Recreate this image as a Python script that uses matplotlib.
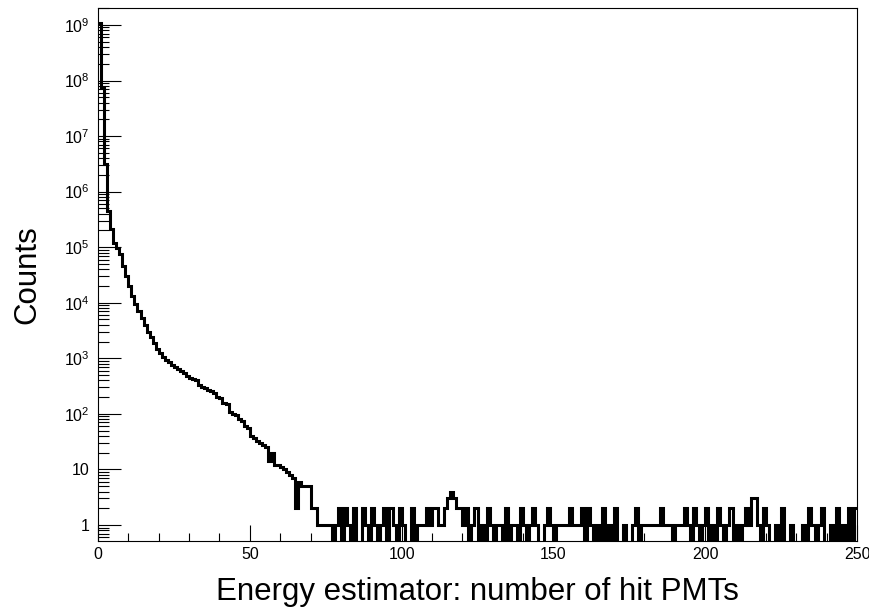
import numpy as np
import matplotlib
matplotlib.use("Agg")
import matplotlib.pyplot as plt
import matplotlib.ticker as ticker

plt.rcParams.update({
    "font.family": ["Liberation Sans", "DejaVu Sans"],
    "mathtext.fontset": "custom",
    "mathtext.rm": "Liberation Sans",
    "mathtext.default": "regular",
})

# -- Datos: cuentas por bin (ancho 1 hit PMT), de 0 a 250 --
counts = [
    1.1e9, 7.6e7, 3.1e6, 4.4e5, 2.1e5, 1.2e5, 9.5e4, 7.4e4, 4.5e4, 3.0e4,   # 0-9
    2.0e4, 1.35e4, 9.5e3, 7.0e3, 5.3e3, 4.0e3, 3.0e3, 2.4e3, 1.9e3, 1.5e3,  # 10-19
    1250, 1070, 950, 850, 770, 700, 640, 590, 545, 480,                     # 20-29
    440, 420, 400, 330, 300, 290, 270, 260, 240, 200,                       # 30-39
    190, 160, 150, 107, 100, 95, 80, 75, 60, 56,                            # 40-49
    40, 37, 33, 30, 27, 25, 14, 20, 12, 12,                                 # 50-59
    11, 10, 9, 8, 7, 2, 6, 5, 5, 5,                                         # 60-69
    2, 2, 1, 1, 1, 1, 1, 0, 1, 2,                                           # 70-79
    0, 2, 1, 0, 2, 0, 0, 2, 1, 0,                                           # 80-89
    2, 1, 0, 1, 2, 0, 2, 1, 0, 2,                                           # 90-99
    1, 0, 0, 2, 0, 1, 1, 1, 2, 1,                                           # 100-109
    2, 2, 1, 1, 2, 3, 4, 3, 2, 2,                                           # 110-119
    1, 2, 0, 1, 2, 0, 1, 0, 2, 1,                                           # 120-129
    0, 1, 1, 0, 2, 0, 1, 1, 0, 2,                                           # 130-139
    1, 0, 1, 2, 1, 0, 0, 1, 2, 1,                                           # 140-149
    0, 1, 1, 1, 1, 2, 1, 1, 1, 2,                                           # 150-159
    0, 2, 1, 0, 1, 0, 2, 0, 1, 0,                                           # 160-169
    2, 0, 0, 1, 0, 0, 1, 2, 0, 1,                                           # 170-179
    1, 1, 1, 1, 1, 2, 1, 1, 1, 0,                                           # 180-189
    1, 1, 1, 2, 1, 0, 2, 1, 0, 1,                                           # 190-199
    2, 0, 1, 0, 2, 1, 0, 1, 2, 0,                                           # 200-209
    1, 0, 1, 2, 1, 3, 3, 1, 0, 2,                                           # 210-219
    1, 0, 0, 1, 0, 2, 0, 0, 1, 0,                                           # 220-229
    0, 0, 1, 0, 2, 1, 0, 1, 2, 0,                                           # 230-239
    0, 1, 0, 2, 0, 1, 0, 2, 0, 2,                                           # 240-249
]
edges = np.arange(len(counts) + 1)

X_TICKS = [0, 50, 100, 150, 200, 250]
Y_TICKS = [1, 1e1, 1e2, 1e3, 1e4, 1e5, 1e6, 1e7, 1e8, 1e9]
Y_LABELS = ["1", "10"] + [r"$10^{%d}$" % n for n in range(2, 10)]

# -- Grafico --
fig = plt.figure(figsize=(8.69, 6.10), dpi=100)
ax = fig.add_axes([0.1128, 0.1131, 0.8734, 0.8738])

ax.stairs(counts, edges, color="black", linewidth=2.2, baseline=None)

ax.set_yscale("log")
ax.set_xlim(0, 250)
ax.set_ylim(0.515, 2.02e9)

# Eje Y: decadas con 1, 10, 10^n
ax.set_yticks(Y_TICKS)
ax.set_yticklabels(Y_LABELS)
ax.yaxis.set_minor_locator(ticker.LogLocator(base=10, subs=np.arange(2, 10), numticks=20))
ax.yaxis.set_minor_formatter(ticker.NullFormatter())

ax.set_xticks(X_TICKS)
ax.xaxis.set_minor_locator(ticker.MultipleLocator(10))

ax.tick_params(axis="both", which="both", direction="in", top=False, right=False,
               labelsize=11.5, width=0.8, color="black")
ax.tick_params(axis="y", which="major", length=16.5, pad=6)
ax.tick_params(axis="y", which="minor", length=8)
ax.tick_params(axis="x", which="major", length=11.5, pad=4)
ax.tick_params(axis="x", which="minor", length=5.8)

for sp in ax.spines.values():
    sp.set_linewidth(0.8)

fig.text(0.549, 0.029, "Energy estimator: number of hit PMTs", ha="center",
         va="center", fontsize=22.5)
fig.text(0.031, 0.55, "Counts", ha="center", va="center", rotation=90, fontsize=22.5)

fig.savefig("out.png", dpi=100)
